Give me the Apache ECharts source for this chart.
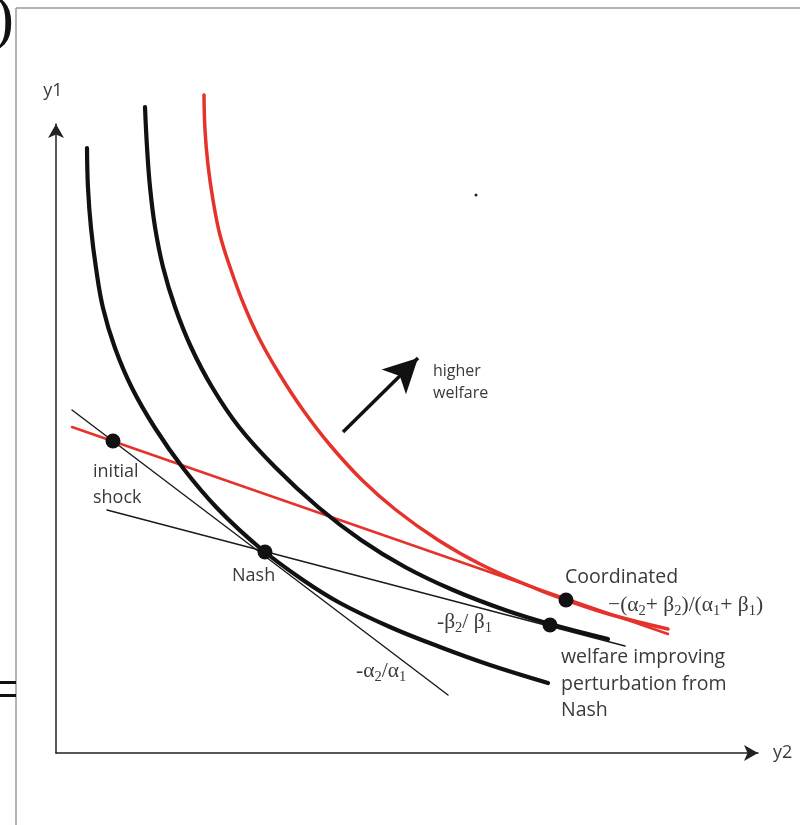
<!DOCTYPE html>
<html>
<head>
<meta charset="utf-8">
<script src="https://cdn.jsdelivr.net/npm/echarts@6/dist/echarts.min.js"></script>
<style>html,body{margin:0;padding:0;background:#fff}#c{width:800px;height:825px}</style>
</head>
<body>
<div id="c"></div>
<script>
// Data units: 1 unit = 1 screen pixel along each axis (origin at the axes corner)
var curveNash = [[31,605],[32,565],[35,525],[40,485],[47,445],[59,405],[76,365],[99,325],[127,285],[161,245],[204,205],[247,173],[284,150],[334,126],[384,106],[434,88],[492,70]];
var curveImproved = [[89,646],[91,606],[94,566],[99,526],[107,486],[119,446],[135,406],[156,366],[183,326],[219,286],[262,246],[305,213],[349,186],[397,163],[449,143],[494,129],[552,114]];
var curveCoordinated = [[148,658],[149,623],[152,588],[157,553],[164,518],[175,483],[188,448],[204,413],[224,378],[247,343],[274,308],[306,273],[340,243],[382,213],[426,188],[483,163],[510,153],[556,138],[612,124]];
var lineCoordinated = [[16,326],[612,119]];
var lineAlpha = [[16,343],[392,58]];
var lineBeta = [[51,243],[569,107]];
var keyPoints = [[57,312],[209,201],[494,128],[510,153]];
var strayDot = [[420,558]];
var welfareArrow = [[287,321],[362,395]];

var chart = echarts.init(document.getElementById('c'), null, {renderer:'canvas'});
var FONT = '"Open Sans", "Noto Sans", sans-serif';
var SERIF = '"Liberation Serif", "DejaVu Serif", serif';
var TXT = '#3a3a3a';
var RED = '#e5322b';

function lineSeries(data, color, width){
  return {type:'line', data:data, showSymbol:false, symbol:'none', smooth:0.4, clip:false,
    lineStyle:{color:color, width:width, cap:'round'}, silent:true, animation:false, z:3};
}
var greek = {
  t:{font:'21.5px ' + SERIF, fill:TXT},
  s:{font:'14.5px ' + SERIF, fill:TXT, padding:[12,0,0,0]}
};

var option = {
  animation:false,
  backgroundColor:'#fff',
  grid:{left:56, right:42, top:124, bottom:72},
  xAxis:{type:'value', min:0, max:702, name:'y2', nameLocation:'end', nameGap:15,
    nameTextStyle:{fontFamily:FONT, fontSize:18, color:TXT},
    axisLine:{show:true, symbol:['none','arrow'], symbolSize:[12,14], lineStyle:{color:'#222', width:1.5}},
    axisTick:{show:false}, axisLabel:{show:false}, splitLine:{show:false}},
  yAxis:{type:'value', min:0, max:629, name:'y1', nameLocation:'end', nameGap:24,
    nameTextStyle:{fontFamily:FONT, fontSize:18, color:TXT, align:'center', padding:[0,6,0,0]},
    axisLine:{show:true, symbol:['none','arrow'], symbolSize:[12,14], lineStyle:{color:'#222', width:1.5}},
    axisTick:{show:false}, axisLabel:{show:false}, splitLine:{show:false}},
  series:[
    lineSeries(lineAlpha, '#1a1a1a', 1.4),
    lineSeries(lineBeta, '#1a1a1a', 1.4),
    lineSeries(lineCoordinated, RED, 2.5),
    lineSeries(curveNash, '#111', 4.2),
    lineSeries(curveImproved, '#111', 4.2),
    lineSeries(curveCoordinated, RED, 3.5),
    {type:'scatter', data:keyPoints, symbol:'circle', symbolSize:15, clip:false,
      itemStyle:{color:'#111', opacity:1}, silent:true, z:5},
    {type:'scatter', data:strayDot, symbol:'circle', symbolSize:3, clip:false,
      itemStyle:{color:'#222', opacity:1}, silent:true, z:5},
    {type:'line', data:[], silent:true,
      markLine:{silent:true, symbol:['none','arrow'], symbolSize:[26,34], animation:false,
        label:{show:false}, lineStyle:{color:'#111', width:3.5, type:'solid'},
        data:[[{coord:welfareArrow[0]},{coord:welfareArrow[1]}]]}}
  ],
  graphic:[
    {type:'line', shape:{x1:16, y1:8, x2:800, y2:8}, style:{stroke:'#9a9a9a', lineWidth:1.5}},
    {type:'line', shape:{x1:16, y1:8, x2:16, y2:825}, style:{stroke:'#9a9a9a', lineWidth:1.5}},
    {type:'rect', shape:{x:0, y:681, width:16, height:3}, style:{fill:'#111'}},
    {type:'rect', shape:{x:0, y:694, width:16, height:3}, style:{fill:'#111'}},
    {type:'text', style:{text:')', x:14, y:22, textAlign:'right', textVerticalAlign:'middle', font:'62px ' + SERIF, fill:'#111'}},
    {type:'text', style:{text:'higher\nwelfare', x:433, y:382, textVerticalAlign:'middle', font:'16px '+FONT, fill:TXT, lineHeight:22}},
    {type:'text', style:{text:'initial\nshock', x:93, y:485, textVerticalAlign:'middle', font:'18px '+FONT, fill:TXT, lineHeight:26}},
    {type:'text', style:{text:'Nash', x:232, y:576, textVerticalAlign:'middle', font:'18px '+FONT, fill:TXT}},
    {type:'text', style:{text:'Coordinated', x:565, y:577, textVerticalAlign:'middle', font:'19.5px '+FONT, fill:TXT}},
    {type:'text', style:{text:'welfare improving\nperturbation from\nNash', x:561, y:684, textVerticalAlign:'middle', font:'19.5px '+FONT, fill:TXT, lineHeight:26.5}},
    {type:'text', style:{text:'{t|-β}{s|2}{t|/ β}{s|1}', x:437, y:622, textVerticalAlign:'middle', rich:greek}},
    {type:'text', style:{text:'{t|-α}{s|2}{t|/α}{s|1}', x:356, y:671, textVerticalAlign:'middle', rich:greek}},
    {type:'text', style:{text:'{t|−(α}{s|2}{t|+ β}{s|2}{t|)/(α}{s|1}{t|+ β}{s|1}{t|)}', x:608, y:605, textVerticalAlign:'middle', rich:greek}}
  ]
};
chart.setOption(option);
</script>
</body>
</html>
